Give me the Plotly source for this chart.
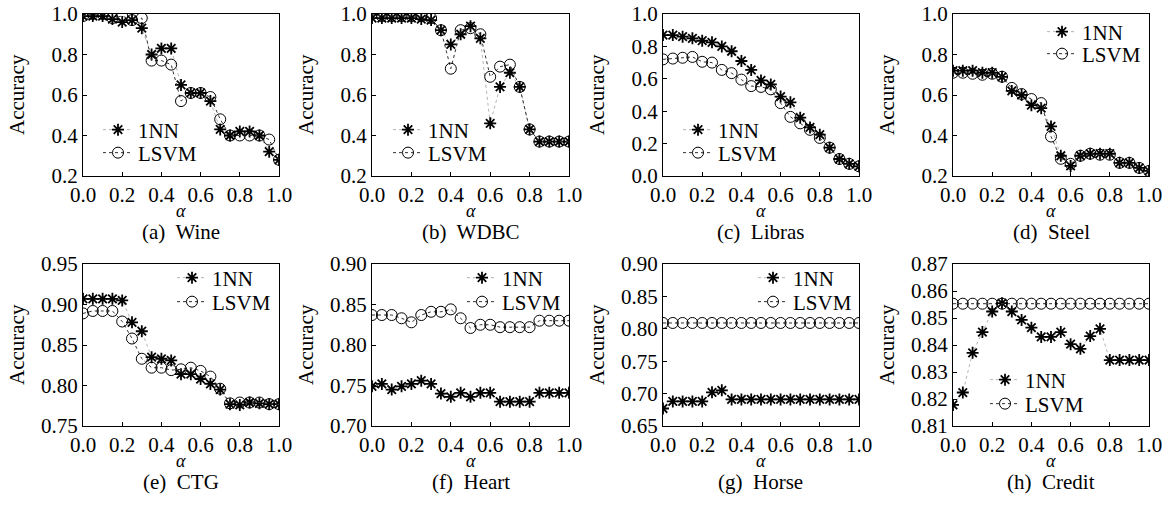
import plotly.graph_objects as go

# alpha values shared by all panels
alpha = [round(i * 0.05, 2) for i in range(21)]

wine_1nn = [0.99, 0.99, 0.99, 0.975, 0.96, 0.97, 0.93, 0.80, 0.83, 0.83, 0.65,
            0.61, 0.61, 0.57, 0.43, 0.40, 0.42, 0.42, 0.40, 0.32, 0.28]
wine_lsvm = [0.99, 1.00, 1.00, 0.98, 0.99, 0.97, 0.98, 0.77, 0.77, 0.75, 0.57,
             0.61, 0.61, 0.59, 0.48, 0.40, 0.40, 0.40, 0.40, 0.38, 0.28]

wdbc_1nn = [0.98, 0.98, 0.98, 0.98, 0.98, 0.975, 0.97, 0.92, 0.85, 0.90, 0.94,
            0.88, 0.46, 0.64, 0.71, 0.64, 0.43, 0.37, 0.37, 0.37, 0.37]
wdbc_lsvm = [1.00, 0.99, 0.99, 0.99, 0.99, 0.99, 0.98, 0.92, 0.73, 0.92, 0.93,
             0.90, 0.69, 0.74, 0.75, 0.64, 0.43, 0.37, 0.37, 0.37, 0.37]

libras_1nn = [0.87, 0.87, 0.86, 0.85, 0.835, 0.825, 0.80, 0.77, 0.71, 0.655, 0.59,
              0.565, 0.49, 0.455, 0.36, 0.30, 0.255, 0.175, 0.105, 0.075, 0.06]
libras_lsvm = [0.72, 0.725, 0.73, 0.735, 0.705, 0.70, 0.655, 0.635, 0.595, 0.555, 0.55,
               0.535, 0.45, 0.365, 0.325, 0.285, 0.235, 0.175, 0.105, 0.075, 0.06]

steel_1nn = [0.72, 0.72, 0.72, 0.71, 0.71, 0.69, 0.62, 0.60, 0.55, 0.535, 0.445,
             0.30, 0.25, 0.30, 0.31, 0.31, 0.31, 0.265, 0.265, 0.24, 0.225]
steel_lsvm = [0.71, 0.71, 0.705, 0.70, 0.705, 0.69, 0.635, 0.605, 0.58, 0.56, 0.395,
              0.285, 0.26, 0.30, 0.31, 0.305, 0.305, 0.265, 0.265, 0.24, 0.225]

ctg_1nn = [0.907, 0.907, 0.907, 0.907, 0.905, 0.878, 0.867, 0.835, 0.833, 0.831, 0.814,
           0.814, 0.808, 0.802, 0.795, 0.777, 0.776, 0.779, 0.778, 0.777, 0.777]
ctg_lsvm = [0.889, 0.892, 0.892, 0.892, 0.879, 0.858, 0.833, 0.822, 0.822, 0.819, 0.820,
            0.822, 0.818, 0.811, 0.796, 0.778, 0.779, 0.779, 0.779, 0.777, 0.777]

heart_1nn = [0.749, 0.752, 0.745, 0.749, 0.752, 0.756, 0.752, 0.740, 0.736, 0.741, 0.736,
             0.741, 0.741, 0.730, 0.730, 0.730, 0.730, 0.741, 0.741, 0.741, 0.741]
heart_lsvm = [0.837, 0.837, 0.837, 0.833, 0.828, 0.837, 0.841, 0.841, 0.844, 0.833, 0.821,
              0.825, 0.825, 0.822, 0.822, 0.822, 0.822, 0.830, 0.830, 0.830, 0.830]

horse_1nn = [0.677, 0.688, 0.688, 0.688, 0.688, 0.702, 0.705, 0.691, 0.691, 0.691, 0.691,
             0.691, 0.691, 0.691, 0.691, 0.691, 0.691, 0.691, 0.691, 0.691, 0.691]
horse_lsvm = [0.809] * 21

credit_1nn = [0.8178, 0.8224, 0.8371, 0.8448, 0.8524, 0.8555, 0.8524, 0.8493, 0.8464, 0.8430, 0.8430,
              0.8448, 0.8403, 0.8386, 0.8433, 0.8460, 0.8344, 0.8344, 0.8344, 0.8344, 0.8344]
credit_lsvm = [0.8553] * 21

captions = ["(a)  Wine", "(b)  WDBC", "(c)  Libras", "(d)  Steel",
            "(e)  CTG", "(f)  Heart", "(g)  Horse", "(h)  Credit"]
series_1nn = [wine_1nn, wdbc_1nn, libras_1nn, steel_1nn,
              ctg_1nn, heart_1nn, horse_1nn, credit_1nn]
series_lsvm = [wine_lsvm, wdbc_lsvm, libras_lsvm, steel_lsvm,
               ctg_lsvm, heart_lsvm, horse_lsvm, credit_lsvm]
y_ranges = [[0.2, 1.0], [0.2, 1.0], [0.0, 1.0], [0.2, 1.0],
            [0.75, 0.95], [0.70, 0.90], [0.65, 0.90], [0.81, 0.87]]
y_dticks = [0.2, 0.2, 0.2, 0.2, 0.05, 0.05, 0.05, 0.01]
y_formats = [".1f", ".1f", ".1f", ".1f", ".2f", ".2f", ".2f", ".2f"]

W, H = 1172, 508
FONT = "Liberation Serif, Times New Roman, serif"
FS = 21

# panel boxes in pixels: left/right per column, top/bottom per row
col_px = [(83, 279), (372, 569), (663, 859), (953, 1149)]
row_px = [(14, 176), (264, 426)]
# legend text start x and entry centre y (1NN, LSVM) in pixels
legend_px = [(138, 130, 153), (428, 130, 153), (718, 130, 153), (1082, 32, 54),
             (212, 278, 302), (502, 278, 302), (793, 278, 302), (1025, 380, 404)]

fig = go.Figure()
layout = dict(
    width=W, height=H,
    margin=dict(l=0, r=0, t=0, b=0, autoexpand=False),
    paper_bgcolor="white", plot_bgcolor="white",
    font=dict(family=FONT, size=FS, color="black"),
    showlegend=True,
)
annotations = []


def add_legend(name, text_x, centre_y):
    layout[name] = dict(
        x=(text_x - 40) / W, y=1 - centre_y / H, xanchor="left", yanchor="middle",
        bgcolor="rgba(0,0,0,0)", borderwidth=0,
        font=dict(family=FONT, size=FS), tracegroupgap=0,
    )


def add_text(text, x_px, y_px, angle=0, size=FS):
    annotations.append(dict(
        x=x_px / W, y=1 - y_px / H, xref="paper", yref="paper",
        xanchor="center", yanchor="middle", text=text, textangle=angle,
        showarrow=False, font=dict(family=FONT, size=size)))


for k in range(8):
    r, c = divmod(k, 4)
    x0, x1 = col_px[c]
    y0, y1 = row_px[r]
    ax = "" if k == 0 else str(k + 1)
    xa, ya = "x" + ax, "y" + ax
    leg_a = "legend" + ("" if k == 0 else str(2 * k + 1))
    leg_b = "legend" + str(2 * k + 2)

    fig.add_trace(go.Scatter(
        x=alpha, y=series_1nn[k], name="1NN", xaxis=xa, yaxis=ya, legend=leg_a,
        mode="lines+markers",
        line=dict(color="#b4b4b4", width=1, dash="dot"),
        marker=dict(symbol="asterisk-open", size=10, color="black",
                    line=dict(color="black", width=1.8)),
    ))
    fig.add_trace(go.Scatter(
        x=alpha, y=series_lsvm[k], name="LSVM", xaxis=xa, yaxis=ya, legend=leg_b,
        mode="lines+markers",
        line=dict(color="#303030", width=1, dash="dot"),
        marker=dict(symbol="circle-open", size=11, color="black",
                    line=dict(color="black", width=1)),
    ))

    common = dict(showline=True, linecolor="black", linewidth=1, mirror=True,
                  ticks="inside", ticklen=4, tickcolor="black", showgrid=False,
                  zeroline=False, automargin=False, tickfont=dict(family=FONT, size=FS))
    layout["xaxis" + ax] = dict(
        domain=[x0 / W, x1 / W], anchor=ya, range=[0, 1], tick0=0, dtick=0.2,
        tickformat=".1f", **common)
    layout["yaxis" + ax] = dict(
        domain=[1 - y1 / H, 1 - y0 / H], anchor=xa, range=y_ranges[k],
        tick0=y_ranges[k][0], dtick=y_dticks[k], tickformat=y_formats[k], **common)

    tx, cy1, cy2 = legend_px[k]
    add_legend(leg_a, tx, cy1)
    add_legend(leg_b, tx, cy2)

    xc = (x0 + x1) / 2
    add_text("<i>α</i>", xc, y1 + 35, size=18)
    add_text(captions[k], xc, y1 + 56)
    add_text("Accuracy", x0 - 66, (y0 + y1) / 2, angle=-90)

layout["annotations"] = annotations
fig.update_layout(**layout)
fig.write_html("out.html")
